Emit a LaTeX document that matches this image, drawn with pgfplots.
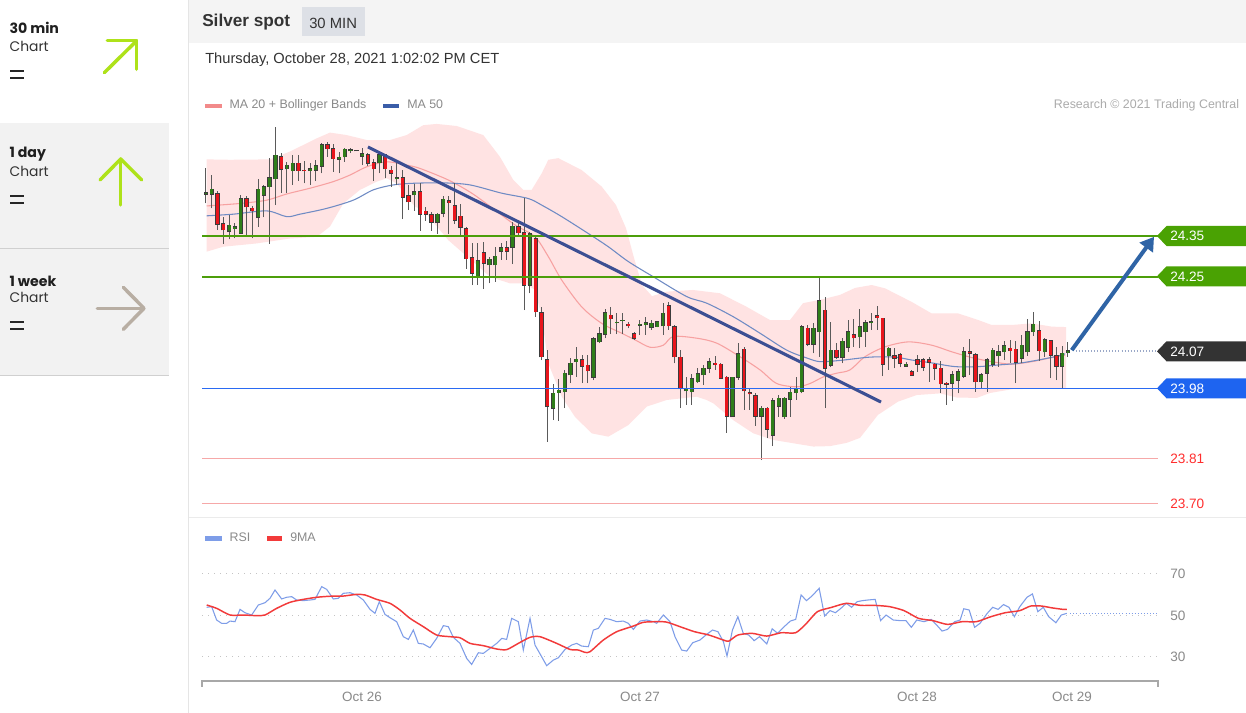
\documentclass[border=0pt]{standalone}
\usepackage{fontspec}
\setmainfont{Liberation Sans}
\newfontfamily\popfont{Poppins}
\usepackage{pgfplots}
\pgfplotsset{compat=1.18}
\usepackage{pgfplotstable}
\usetikzlibrary{arrows.meta}

\definecolor{sidegray}{HTML}{F2F2F2}
\definecolor{sideline}{HTML}{D0D0D0}
\definecolor{lime}{HTML}{AEE21A}
\definecolor{taupe}{HTML}{B8AEA3}
\definecolor{hdrbg}{HTML}{F4F4F4}
\definecolor{minbox}{HTML}{DDE0E6}
\definecolor{txtdark}{HTML}{333333}
\definecolor{txtgray}{HTML}{8A8A8A}
\definecolor{txtlight}{HTML}{ABABAB}
\definecolor{bbfill}{HTML}{FFE3E3}
\definecolor{ma20}{HTML}{F7A1A1}
\definecolor{ma50}{HTML}{6F8BC4}
\definecolor{legpink}{HTML}{F28A8A}
\definecolor{legblue}{HTML}{3A5DA8}
\definecolor{lvgreen}{HTML}{4C9E0A}
\definecolor{taggreen}{HTML}{4AA203}
\definecolor{lvblue}{HTML}{2A6AF2}
\definecolor{tagblue}{HTML}{1E64F0}
\definecolor{tagdark}{HTML}{333333}
\definecolor{lvred}{HTML}{F6A8A8}
\definecolor{txtred}{HTML}{FF2E2E}
\definecolor{cgreen}{HTML}{2F7E1A}
\definecolor{cred}{HTML}{E8151C}
\definecolor{cline}{HTML}{3C3C3C}
\definecolor{wick}{HTML}{5A5A5A}
\definecolor{trend}{HTML}{3C4F93}
\definecolor{arrowblue}{HTML}{2F64A6}
\definecolor{dotblue}{HTML}{9AA8C8}
\definecolor{rsiblue}{HTML}{7E9DE8}
\definecolor{rsired}{HTML}{F23A3A}
\definecolor{gridg}{HTML}{C4C4C4}
\definecolor{axgray}{HTML}{A8A8A8}

% up candles: index open high low close (price)
\pgfplotstableread{
i o h l c
0 24.452 24.514 24.429 24.455
1 24.452 24.498 24.417 24.463
4 24.361 24.401 24.342 24.376
5 24.368 24.381 24.344 24.373
6 24.357 24.449 24.355 24.441
9 24.395 24.488 24.373 24.463
10 24.449 24.474 24.395 24.470
11 24.470 24.539 24.331 24.491
12 24.489 24.615 24.425 24.546
14 24.513 24.530 24.454 24.522
15 24.509 24.546 24.474 24.527
18 24.509 24.527 24.474 24.513
19 24.510 24.535 24.483 24.520
20 24.520 24.575 24.502 24.572
23 24.536 24.554 24.502 24.541
24 24.542 24.564 24.530 24.560
25 24.557 24.564 24.551 24.559
26 24.557 24.559 24.556 24.557
27 24.544 24.564 24.522 24.549
30 24.528 24.552 24.502 24.547
33 24.489 24.527 24.474 24.492
36 24.450 24.476 24.411 24.457
40 24.384 24.405 24.355 24.403
41 24.405 24.446 24.395 24.439
47 24.251 24.332 24.232 24.290
49 24.280 24.300 24.235 24.294
50 24.280 24.323 24.239 24.301
51 24.313 24.332 24.292 24.321
53 24.323 24.385 24.282 24.374
56 24.231 24.360 24.211 24.355
60 23.932 23.992 23.903 23.968
61 23.970 24.002 23.902 23.976
62 23.972 24.025 23.932 24.017
63 24.013 24.053 23.993 24.041
64 24.045 24.080 24.008 24.051
67 24.007 24.106 24.000 24.101
68 24.093 24.130 24.090 24.112
69 24.112 24.174 24.102 24.164
71 24.140 24.164 24.112 24.141
72 24.144 24.164 24.112 24.145
75 24.134 24.146 24.110 24.136
76 24.135 24.153 24.110 24.140
77 24.128 24.146 24.122 24.138
78 24.130 24.144 24.128 24.142
79 24.132 24.187 24.110 24.162
83 23.974 24.007 23.940 23.980
84 23.972 24.015 23.940 24.004
85 23.996 24.029 23.993 24.015
86 24.013 24.037 23.988 24.029
87 24.029 24.053 24.017 24.045
91 23.913 24.008 23.911 24.007
92 24.007 24.090 24.000 24.064
96 23.913 23.937 23.806 23.932
98 23.867 23.958 23.840 23.950
99 23.937 23.964 23.911 23.956
100 23.911 23.960 23.907 23.956
101 23.954 23.984 23.911 23.971
102 23.970 24.008 23.952 23.980
103 23.972 24.134 23.968 24.130
105 24.088 24.140 24.065 24.126
106 24.118 24.251 24.057 24.193
108 24.037 24.142 24.031 24.073
110 24.056 24.102 24.041 24.094
111 24.080 24.146 24.069 24.118
113 24.106 24.174 24.077 24.130
114 24.118 24.146 24.081 24.140
115 24.140 24.162 24.122 24.142
118 24.059 24.081 24.025 24.077
121 24.034 24.045 24.033 24.039
129 23.993 24.023 23.950 24.013
130 24.000 24.026 23.968 24.021
131 24.010 24.081 24.005 24.069
134 23.996 24.018 23.980 24.013
135 24.017 24.053 23.972 24.049
136 24.039 24.077 24.033 24.073
137 24.059 24.085 24.033 24.069
138 24.069 24.096 24.049 24.083
141 24.053 24.110 24.041 24.085
142 24.069 24.148 24.059 24.118
143 24.118 24.166 24.107 24.136
145 24.069 24.102 24.056 24.098
148 24.034 24.083 23.980 24.065
149 24.067 24.093 24.056 24.071
}\upc

% down candles
\pgfplotstableread{
i o h l c
2 24.452 24.460 24.365 24.379
3 24.379 24.395 24.331 24.365
7 24.441 24.446 24.353 24.421
8 24.417 24.423 24.344 24.411
13 24.542 24.551 24.455 24.512
16 24.527 24.547 24.484 24.509
17 24.510 24.531 24.478 24.508
21 24.572 24.578 24.542 24.562
22 24.562 24.573 24.506 24.538
28 24.547 24.551 24.520 24.527
29 24.528 24.536 24.484 24.513
31 24.547 24.547 24.490 24.513
32 24.510 24.520 24.470 24.502
34 24.492 24.510 24.391 24.444
35 24.447 24.474 24.413 24.433
37 24.457 24.478 24.363 24.403
38 24.410 24.420 24.387 24.403
39 24.401 24.409 24.363 24.384
42 24.436 24.446 24.355 24.431
43 24.424 24.479 24.379 24.389
44 24.398 24.428 24.348 24.371
45 24.368 24.373 24.271 24.295
46 24.297 24.332 24.231 24.260
48 24.309 24.336 24.221 24.284
52 24.321 24.339 24.292 24.313
54 24.373 24.389 24.352 24.358
55 24.358 24.442 24.170 24.231
57 24.343 24.352 24.154 24.166
58 24.164 24.178 24.049 24.057
59 24.049 24.073 23.851 23.937
65 24.049 24.061 23.993 24.034
66 24.036 24.061 23.993 24.023
70 24.158 24.178 24.112 24.149
73 24.136 24.142 24.126 24.132
74 24.112 24.118 24.098 24.102
80 24.180 24.191 24.122 24.132
81 24.130 24.134 24.041 24.057
82 24.056 24.073 23.932 23.980
88 24.041 24.059 24.025 24.038
89 24.039 24.041 24.005 24.005
90 24.007 24.010 23.873 23.913
93 24.075 24.081 23.928 23.974
94 23.970 23.980 23.928 23.967
95 23.962 23.968 23.889 23.913
97 23.932 23.936 23.859 23.881
104 24.126 24.134 24.083 24.088
107 24.170 24.203 23.932 24.029
109 24.073 24.090 24.051 24.056
112 24.110 24.148 24.081 24.103
116 24.157 24.180 24.122 24.152
117 24.150 24.150 24.010 24.039
119 24.059 24.077 24.029 24.053
120 24.061 24.065 24.031 24.041
122 24.020 24.025 24.010 24.012
123 24.049 24.061 24.021 24.039
124 24.049 24.053 24.023 24.031
125 24.049 24.057 23.996 24.044
126 24.039 24.042 24.000 24.029
127 24.029 24.047 23.968 23.991
128 23.993 23.996 23.940 23.990
132 24.069 24.099 24.013 24.065
133 24.061 24.065 23.972 23.996
139 24.077 24.098 24.041 24.072
140 24.075 24.096 23.993 24.043
144 24.120 24.144 24.047 24.072
146 24.096 24.098 24.005 24.061
147 24.059 24.081 24.000 24.034
}\dnc

\newcommand{\fs}[1]{\fontsize{#1}{#1}\selectfont}

\begin{document}
\begin{tikzpicture}
\begin{scope}[x=0.75pt,y=-0.75pt]
  \fill[white] (0,0) rectangle (1246,713);
  % sidebar
  \fill[sidegray] (0,123) rectangle (169,375);
  \draw[sideline, line width=0.75pt] (0,248.3) -- (169,248.3);
  \draw[sideline, line width=0.75pt] (0,375) -- (169,375);
  \draw[black!10, line width=0.75pt] (188.5,0) -- (188.5,713);
  \node[anchor=base west, inner sep=0, text=black!88, font={\popfont\bfseries\fs{10.6pt}}] at (9.3,34) {30 min};
  \node[anchor=base west, inner sep=0, text=txtdark, font={\popfont\fs{10.4pt}}] at (9.3,51.7) {Chart};
  \node[anchor=base west, inner sep=0, text=black!88, font={\popfont\bfseries\fs{10.6pt}}] at (9.3,157.5) {1 day};
  \node[anchor=base west, inner sep=0, text=txtdark, font={\popfont\fs{10.4pt}}] at (9.3,176.7) {Chart};
  \node[anchor=base west, inner sep=0, text=black!88, font={\popfont\bfseries\fs{10.6pt}}] at (9.3,286) {1 week};
  \node[anchor=base west, inner sep=0, text=txtdark, font={\popfont\fs{10.4pt}}] at (9.3,302.7) {Chart};
  \foreach \yy in {71.2,78.3,196.2,203.3,321.9,329}{
    \draw[black!85, line width=1.7pt] (10,\yy) -- (24,\yy);}
  \begin{scope}[line width=2.6pt, line cap=round, line join=round]
    \draw[lime] (104.3,72.7) -- (136.7,40.7);
    \draw[lime] (107.3,40.7) -- (136.7,40.7) -- (136.7,69.3);
    \draw[lime] (120.7,205) -- (120.7,159);
    \draw[lime] (100,180) -- (120.7,159) -- (141.7,180);
    \draw[taupe] (97.3,308.3) -- (144,308.3);
    \draw[taupe] (123.3,287.3) -- (144,308.3) -- (123.3,329.3);
  \end{scope}
  % header
  \fill[hdrbg] (189.3,0) rectangle (1246,42.7);
  \fill[minbox] (302,6.7) rectangle (365,36);
  \node[anchor=base west, inner sep=0, text=txtdark, font={\bfseries\fs{12.9pt}}] at (202,27) {Silver spot};
  \node[anchor=base west, inner sep=0, text=txtdark, font={\fs{11.1pt}}] at (309,28.3) {30 MIN};
  \node[anchor=base west, inner sep=0, text=txtdark, font={\fs{11.0pt}}] at (205,63.3) {Thursday, October 28, 2021 1:02:02 PM CET};
  % legend price
  \fill[legpink] (205,104) rectangle (221.7,108.3);
  \node[anchor=base west, inner sep=0, text=txtgray, font={\fs{9.3pt}}] at (229.3,108.9) {MA 20 + Bollinger Bands};
  \fill[legblue] (383,104) rectangle (399,108.3);
  \node[anchor=base west, inner sep=0, text=txtgray, font={\fs{9.3pt}}] at (407,108.9) {MA 50};
  \node[anchor=base east, inner sep=0, text=txtlight, font={\fs{9.3pt}}] at (1239.3,108.9) {Research \textcopyright{} 2021 Trading Central};
  % separator
  \draw[black!8, line width=0.75pt] (189.3,517) -- (1246,517);
  % RSI legend
  \fill[rsiblue] (205,536) rectangle (221.7,540.7);
  \node[anchor=base west, inner sep=0, text=txtgray, font={\fs{9.3pt}}] at (229.3,541.8) {RSI};
  \fill[rsired] (266.7,536) rectangle (281.7,540.7);
  \node[anchor=base west, inner sep=0, text=txtgray, font={\fs{9.3pt}}] at (290,541.8) {9MA};
\end{scope}

% ================= price axis =================
\begin{axis}[at={(151.5pt,-387.12pt)}, anchor=south west, scale only axis,
  width=717pt, height=299.73pt, xmin=-0.69, xmax=164.56, ymin=23.67, ymax=24.64,
  hide axis, clip=false]
  % Bollinger band envelope: upper band forward, lower band back
  \addplot[fill=bbfill, draw=none, forget plot] coordinates {
  (0.12,24.536) (4.15,24.535) (11.06,24.536) (14.52,24.555) (19.14,24.587) (21.43,24.601)
  (24.32,24.595) (27.78,24.583) (31.81,24.583) (34.69,24.595) (37.56,24.619) (39.88,24.622)
  (43.34,24.617) (47.93,24.595) (50.82,24.542) (53.12,24.486) (54.85,24.462) (56.30,24.462)
  (58.03,24.502) (59.17,24.535) (60.90,24.539) (64.94,24.510) (68.40,24.470) (70.87,24.425)
  (72.60,24.369) (73.98,24.297) (75.37,24.231) (77.10,24.204) (79.64,24.215) (84.18,24.219)
  (88.85,24.211) (93.47,24.178) (97.49,24.146) (100.95,24.146) (103.2,24.187) (106.14,24.195)
  (109.59,24.207) (112.19,24.224) (115.07,24.231) (117.37,24.223) (121.99,24.190) (125.44,24.162)
  (130.04,24.162) (133.50,24.146) (135.82,24.134) (139.27,24.134) (142.73,24.138) (146.19,24.130)
  (148.66,24.129)
  (148.66,23.979) (145.03,23.980) (139.27,23.978) (135.52,23.969) (133.22,23.957) (129.77,23.958)
  (126.88,23.968) (122.85,23.964) (119.62,23.948) (116.16,23.916) (113.05,23.860) (110.75,23.848)
  (107.87,23.840) (104.98,23.839) (101.52,23.847) (98.06,23.855) (94.61,23.871) (91.15,23.903)
  (87.69,23.944) (86.55,23.952) (84.82,23.960) (79.64,23.952) (76.18,23.936) (73.00,23.891)
  (69.54,23.863) (66.67,23.871) (63.79,23.911) (61.49,23.960) (59.17,24.041) (58.03,24.154)
  (56.87,24.219) (55.14,24.235) (52.55,24.235) (49.09,24.251) (46.21,24.287) (41.88,24.340)
  (37.56,24.413) (36.13,24.421) (32.96,24.478) (31.24,24.490) (29.51,24.482) (26.62,24.462)
  (23.73,24.429) (21.43,24.373) (19.14,24.348) (14.52,24.344) (8.76,24.332) (2.99,24.324)
  (0.12,24.312)} -- cycle;
  % MA20
  \addplot[ma20, line width=0.8pt, smooth, tension=0.5, forget plot] coordinates {
  (0.12,24.423) (5.88,24.429) (10.49,24.437) (13.95,24.452) (17.98,24.466) (22.0,24.482)
  (24.89,24.498) (27.78,24.518) (31.24,24.530) (34.69,24.522) (36.99,24.514) (41.88,24.486)
  (45.93,24.454) (49.96,24.413) (53.41,24.377) (56.87,24.348) (59.17,24.300) (61.49,24.243)
  (64.94,24.178) (68.40,24.138) (71.86,24.114) (74.16,24.098) (76.75,24.080) (79.05,24.085)
  (80.78,24.106) (84.82,24.102) (88.28,24.090) (92.31,24.057) (95.77,24.025) (98.65,23.992)
  (102.11,23.984) (104.41,23.992) (106.71,24.008) (109.02,24.017) (111.32,24.025) (113.91,24.057)
  (117.37,24.081) (121.40,24.093) (125.44,24.085) (128.90,24.069) (132.36,24.055) (135.82,24.045)
  (139.27,24.039) (142.73,24.045) (146.19,24.055) (148.49,24.061)};
  % MA50
  \addplot[ma50, line width=0.8pt, smooth, tension=0.5, forget plot] coordinates {
  (0.12,24.399) (4.72,24.403) (10.49,24.411) (13.95,24.397) (16.25,24.403) (20.86,24.417)
  (25.46,24.437) (28.92,24.462) (32.38,24.474) (35.83,24.478) (41.02,24.479) (45.64,24.474)
  (51.11,24.454) (55.71,24.441) (58.03,24.425) (61.49,24.397) (66.09,24.356) (69.54,24.324)
  (73.00,24.288) (77.32,24.251) (83.09,24.203) (86.55,24.187) (91.15,24.154) (95.77,24.114)
  (100.38,24.073) (103.84,24.054) (106.14,24.045) (109.59,24.048) (114.78,24.056) (119.10,24.056)
  (121.99,24.049) (125.44,24.042) (129.47,24.033) (133.50,24.033) (136.96,24.037) (140.42,24.041)
  (143.87,24.049) (147.33,24.059) (148.49,24.064)};
  % wicks
  \addplot[draw=none, forget plot, error bars/.cd, y dir=plus, y explicit, error mark=none,
    error bar style={draw=wick, line width=0.75pt}]
    table[x=i, y=l, y error expr=\thisrow{h}-\thisrow{l}] \upc;
  \addplot[draw=none, forget plot, error bars/.cd, y dir=plus, y explicit, error mark=none,
    error bar style={draw=wick, line width=0.75pt}]
    table[x=i, y=l, y error expr=\thisrow{h}-\thisrow{l}] \dnc;
  % bodies: outline
  \addplot[draw=none, forget plot, error bars/.cd, y dir=plus, y explicit, error mark=none,
    error bar style={draw=cline, line width=3.2pt}]
    table[x=i, y expr=\thisrow{o}-0.0014, y error expr=\thisrow{c}-\thisrow{o}+0.0028] \upc;
  \addplot[draw=none, forget plot, error bars/.cd, y dir=plus, y explicit, error mark=none,
    error bar style={draw=cline, line width=3.2pt}]
    table[x=i, y expr=\thisrow{c}-0.0014, y error expr=\thisrow{o}-\thisrow{c}+0.0028] \dnc;
  % bodies: fill
  \addplot[draw=none, forget plot, error bars/.cd, y dir=plus, y explicit, error mark=none,
    error bar style={draw=cgreen, line width=2.2pt}]
    table[x=i, y=o, y error expr=\thisrow{c}-\thisrow{o}] \upc;
  \addplot[draw=none, forget plot, error bars/.cd, y dir=plus, y explicit, error mark=none,
    error bar style={draw=cred, line width=2.2pt}]
    table[x=i, y=c, y error expr=\thisrow{o}-\thisrow{c}] \dnc;
  % levels
  \addplot[lvgreen, line width=1.6pt, forget plot] coordinates {(-0.69,24.35) (164.56,24.35)};
  \addplot[lvgreen, line width=1.6pt, forget plot] coordinates {(-0.69,24.25) (164.56,24.25)};
  \addplot[lvblue, line width=0.9pt, forget plot] coordinates {(-0.69,23.98) (164.56,23.98)};
  \addplot[lvred, line width=0.9pt, forget plot] coordinates {(-0.69,23.81) (164.56,23.81)};
  \addplot[lvred, line width=0.9pt, forget plot] coordinates {(-0.69,23.70) (164.56,23.70)};
  \addplot[dotblue, line width=1.4pt, dash pattern=on 0.7pt off 1.6pt, forget plot] coordinates {(150.3,24.07) (164.56,24.07)};
  % trend line
  \addplot[trend, line width=2.3pt, forget plot] coordinates {(28.0,24.566) (116.68,23.947)};
  % projection arrow
  \addplot[arrowblue, line width=3pt, -{Triangle[length=10pt,width=12pt]}, forget plot]
    coordinates {(149.65,24.073) (163.87,24.348)};
\end{axis}

% ================= RSI axis =================
\begin{axis}[at={(151.5pt,-510.68pt)}, anchor=south west, scale only axis,
  width=717pt, height=100.25pt, xmin=-0.69, xmax=164.56, ymin=18.4, ymax=82.5,
  axis line style={draw=none}, major tick length=0pt, ytick=\empty,
  xtick={26.97,75.02,122.9,149.7}, xticklabels={Oct 26,Oct 27,Oct 28,Oct 29},
  xticklabel style={anchor=base, yshift=-15.3pt, font={\fs{10.1pt}}, text=txtgray},
  clip=false]
  \addplot[gridg, line width=0.75pt, dash pattern=on 0.75pt off 3.75pt, forget plot] coordinates {(-0.69,70) (164.56,70)};
  \addplot[gridg, line width=0.75pt, dash pattern=on 0.75pt off 3.75pt, forget plot] coordinates {(-0.69,50) (164.56,50)};
  \addplot[gridg, line width=0.75pt, dash pattern=on 0.75pt off 3.75pt, forget plot] coordinates {(-0.69,30) (164.56,30)};
  \addplot[rsiblue, line width=0.8pt, forget plot] coordinates {
  (0.12,53.7) (0.98,54.0) (1.84,47.6) (2.71,46.0) (3.57,46.0) (4.15,47.1) (5.01,46.8) (5.88,52.7)
  (6.74,51.1) (7.89,50.0) (9.05,54.8) (10.2,55.9) (11.06,58.0) (11.93,62.0) (13.08,57.7) (13.94,58.5)
  (14.81,58.8) (15.67,57.2) (16.83,56.9) (17.98,57.2) (18.84,57.5) (20.0,63.6) (20.86,62.3) (22.01,57.7)
  (22.88,58.0) (23.74,60.4) (24.89,60.7) (26.04,59.6) (27.2,57.2) (28.35,52.7) (29.21,50.8) (29.96,56.4)
  (30.94,50.3) (31.81,48.7) (32.96,46.8) (34.11,39.6) (34.98,38.3) (35.84,42.8) (36.7,36.4) (37.57,36.1)
  (38.72,34.3) (39.87,38.8) (41.03,44.9) (41.89,44.4) (42.75,39.3) (43.91,36.4) (45.06,29.2) (45.92,26.3)
  (47.08,31.9) (47.94,31.6) (49.09,34.0) (50.25,36.4) (51.11,38.8) (51.97,38.3) (52.84,48.4) (53.99,46.8)
  (54.85,33.2) (56.01,48.4) (56.87,35.6) (58.02,30.0) (58.89,25.7) (60.04,28.4) (60.91,29.5) (62.06,33.5)
  (63.21,35.6) (64.07,36.4) (64.94,35.1) (66.09,34.8) (66.96,42.8) (67.82,43.6) (68.97,48.4) (69.84,47.9)
  (70.99,46.8) (72.14,47.1) (73.01,46.0) (73.87,43.1) (75.02,47.1) (76.18,47.6) (77.33,46.8) (77.9,46.0)
  (79.06,50.0) (80.21,46.8) (81.07,39.6) (82.22,33.2) (83.09,32.7) (84.13,36.7) (85.38,38.0) (86.63,40.9)
  (87.56,42.8) (88.5,42.0) (89.44,37.2) (90.06,30.3) (91.0,42.8) (91.94,49.2) (92.87,41.2) (93.81,40.4)
  (94.75,37.7) (95.68,39.6) (96.93,36.1) (97.87,43.4) (98.81,41.2) (100.06,44.7) (101.0,47.1) (101.93,47.9)
  (102.87,59.6) (103.8,56.9) (104.74,59.1) (105.99,62.8) (106.93,49.5) (107.87,52.1) (108.8,51.1) (109.74,53.2)
  (110.68,55.6) (111.61,53.7) (112.55,56.4) (113.49,56.9) (114.43,57.2) (115.67,57.5) (116.61,47.3) (117.55,50.0)
  (118.8,47.6) (120.05,47.3) (120.99,47.3) (121.92,44.1) (122.86,47.6) (124.11,46.8) (125.36,47.9) (126.3,45.2)
  (127.23,42.3) (128.17,43.1) (129.42,46.8) (130.36,47.6) (130.98,53.0) (131.92,52.4) (132.86,44.1) (133.79,46.0)
  (135.04,50.8) (135.98,53.7) (136.92,52.7) (137.85,55.0) (138.79,53.7) (139.73,49.2) (140.67,54.0) (141.91,58.5)
  (142.85,60.1) (143.79,51.6) (144.73,53.7) (145.66,49.2) (146.91,46.3) (147.85,50.0) (148.79,50.8)};
  \addplot[rsired, line width=1.1pt, smooth, tension=0.4, forget plot] coordinates {
  (0.12,54.8) (1.84,53.2) (4.15,50.0) (6.45,50.0) (8.76,49.7) (10.2,50.0) (12.22,53.2) (14.52,56.1)
  (16.83,57.5) (19.13,58.5) (21.44,59.0) (23.74,59.1) (26.04,59.9) (27.49,59.6) (29.5,57.5) (31.81,55.6)
  (33.54,52.4) (35.26,48.4) (37.57,44.4) (39.87,40.4) (42.18,39.6) (43.91,39.1) (45.64,36.4) (47.94,35.3)
  (50.25,33.7) (51.97,33.4) (53.99,36.4) (56.01,39.3) (57.73,39.6) (60.62,36.4) (62.92,33.5) (64.36,33.2)
  (65.51,32.1) (66.38,32.4) (68.68,38.0) (70.99,42.0) (73.87,44.7) (75.6,46.5) (77.9,46.8) (79.63,46.6)
  (81.94,44.4) (84.44,42.0) (86.94,40.4) (89.44,38.0) (90.37,37.5) (91.94,40.4) (94.43,41.2) (96.93,39.9)
  (99.43,41.5) (101.93,41.5) (103.8,46.0) (105.68,51.6) (108.18,53.7) (110.68,55.6) (113.18,54.6) (115.67,54.6)
  (118.17,54.0) (120.67,52.1) (123.17,48.4) (125.67,47.3) (128.17,45.5) (130.67,46.8) (133.17,46.8) (135.67,49.2)
  (138.17,51.1) (140.67,52.1) (142.54,54.3) (144.42,54.3) (146.29,53.4) (148.16,52.7) (148.79,52.7)};
  \addplot[rsiblue, line width=1.2pt, dash pattern=on 0.7pt off 1.6pt, forget plot] coordinates {(149.4,50.8) (164.56,50.8)};
\end{axis}

% ================= annotations (pixel coords) =================
\begin{scope}[x=0.75pt,y=-0.75pt]
  % axis line of time scale
  \draw[axgray, line width=1.4pt] (202,681) -- (1158,681);
  \draw[axgray, line width=1.4pt] (202,680.3) -- (202,687);
  \draw[axgray, line width=1.4pt] (1158,680.3) -- (1158,687);
  % RSI labels
  \foreach \yy/\lab in {578.2/70, 620/50, 661.6/30}{
    \node[anchor=base west, inner sep=0, text=txtgray, font={\fs{10.2pt}}] at (1170,\yy) {\lab};}
  % level tags
  \foreach \yc/\col/\lab in {236/taggreen/24.35, 276.3/taggreen/24.25, 351.3/tagdark/24.07, 388.3/tagblue/23.98}{
    \fill[\col] (1157,\yc) -- (1166.5,\yc-10) -- (1246,\yc-10) -- (1246,\yc+10) -- (1166.5,\yc+10) -- cycle;
    \node[anchor=base west, inner sep=0, text=white, font={\fs{10.2pt}}] at (1170,\yc+4.9) {\lab};}
  \node[anchor=base west, inner sep=0, text=txtred, font={\fs{10.2pt}}] at (1170,463.4) {23.81};
  \node[anchor=base west, inner sep=0, text=txtred, font={\fs{10.2pt}}] at (1170,508.9) {23.70};
\end{scope}
\pgfresetboundingbox
\path[use as bounding box] (0,0) rectangle (934.5pt,-534.75pt);
\end{tikzpicture}
\end{document}
